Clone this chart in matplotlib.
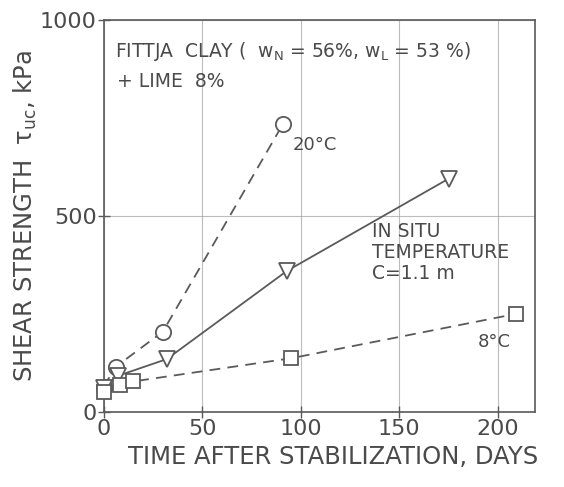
import numpy as np
import matplotlib
matplotlib.use("Agg")
import matplotlib.pyplot as plt

# Data (days, kPa)
days_20c = [0, 6, 30, 91]
tau_20c = [65, 115, 205, 735]

days_insitu = [0, 7, 32, 93, 175]
tau_insitu = [60, 92, 135, 360, 595]

days_8c = [0, 8, 15, 95, 209]
tau_8c = [52, 68, 78, 137, 250]

x_ticks = [0, 50, 100, 150, 200]
y_ticks = [0, 500, 1000]

plt.rcParams['font.family'] = ['DejaVu Sans']
plt.rcParams['mathtext.fontset'] = 'custom'
plt.rcParams['mathtext.rm'] = 'DejaVu Sans'
plt.rcParams['mathtext.it'] = 'DejaVu Sans'

gris = '#5a5a5a'
texto = '#4a4a4a'

fig = plt.figure(figsize=(5.64, 4.87), dpi=100)
ax = fig.add_axes([0.184, 0.154, 0.765, 0.805])

ax.plot(days_20c, tau_20c, linestyle=(0, (6, 4)), color=gris, lw=1.3,
        marker='o', ms=11, mfc='white', mec=gris, mew=1.3, clip_on=False, zorder=3)
ax.plot(days_insitu, tau_insitu, linestyle='-', color=gris, lw=1.3,
        marker='v', ms=11, mfc='white', mec=gris, mew=1.3, clip_on=False, zorder=3)
ax.plot(days_8c, tau_8c, linestyle=(0, (6, 4)), color=gris, lw=1.3,
        marker='s', ms=10, mfc='white', mec=gris, mew=1.3, clip_on=False, zorder=3)

ax.set_xlim(0, 219)
ax.set_ylim(0, 1000)
ax.set_xticks(x_ticks)
ax.set_yticks(y_ticks)
ax.grid(True, color='#a0a0a0', lw=0.8, alpha=0.7)
for s in ax.spines.values():
    s.set_color(gris)
    s.set_linewidth(1.2)
ax.tick_params(direction='inout', length=8, width=1.0, color=gris,
               labelsize=16, labelcolor=texto, pad=1)

ax.set_xlabel('TIME AFTER STABILIZATION, DAYS', fontsize=17.5, color=texto)
ax.set_ylabel(r'SHEAR STRENGTH  τ$_{\mathregular{uc}}$, kPa', fontsize=17.5,
              color=texto)
ax.xaxis.set_label_coords(0.531, -0.085)
ax.yaxis.set_label_coords(-0.15, 0.50)

# Anotaciones
ax.text(5.5, 906, r'FITTJA  CLAY (  w$_\mathregular{N}$ = 56%, w$_\mathregular{L}$ = 53 %)',
        fontsize=13.5, color=texto, va='baseline')
ax.text(6.5, 828, '+ LIME  8%', fontsize=13.5, color=texto, va='baseline')
ax.text(96, 680, '20°C', fontsize=13, color=texto, va='center')
ax.text(136, 484, 'IN SITU\nTEMPERATURE\nC=1.1 m', fontsize=13.5, color=texto,
        va='top', linespacing=1.12)
ax.text(190, 178, '8°C', fontsize=13, color=texto, va='center')

fig.savefig('out.png', dpi=100, facecolor='white')
